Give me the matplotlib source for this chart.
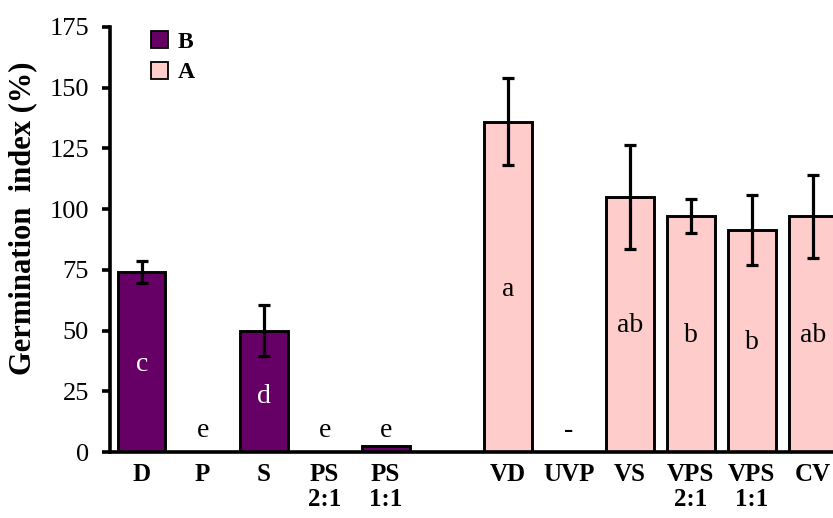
import matplotlib
matplotlib.use("Agg")
import matplotlib.pyplot as plt
from matplotlib.patches import Patch

plt.rcParams['font.family'] = ['Liberation Serif', 'DejaVu Serif']

# Treatments (series B: positions 0-4, series A: positions 6-11)
labels_b = ["D", "P", "S", "PS\n2:1", "PS\n1:1"]
values_b = [74, 0, 50, 0, 2.5]
errors_b = [4.5, 0, 10.5, 0, 0]
letters_b = ["c", "e", "d", "e", "e"]
letter_y_b = [36, 9, 23, 9, 9]

labels_a = ["VD", "UVP", "VS", "VPS\n2:1", "VPS\n1:1", "CV"]
values_a = [136, 0, 105, 97, 91.5, 97]
errors_a = [18, 0, 21.5, 7, 14.5, 17]
letters_a = ["a", "-", "ab", "b", "b", "ab"]
letter_y_a = [67, 9, 52, 48, 45, 48]

color_b = "#660066"
color_a = "#FFCCCC"

x_b = list(range(len(labels_b)))
x_a = [len(labels_b) + 1 + i for i in range(len(labels_a))]

fig = plt.figure(figsize=(8.33, 5.18), dpi=100)
ax = fig.add_axes([0.132, 0.1274, 0.868, 0.8206])

bw = 0.78
err_kw = dict(elinewidth=2.3, capthick=2.3, ecolor="black")

def draw(xs, vals, errs, color, letters, ly, txtcolor):
    for x, v, e, lt, y in zip(xs, vals, errs, letters, ly):
        if v > 0:
            ax.bar(x, v, width=bw, color=color, edgecolor="black", linewidth=2.1,
                   zorder=2)
        if e > 0:
            ax.errorbar(x, v, yerr=e, fmt="none", capsize=4.5, zorder=3, **err_kw)
        c = txtcolor if v > y else "black"
        ax.text(x, y, lt, ha="center", va="center", fontsize=20, color=c, zorder=4)

draw(x_b, values_b, errors_b, color_b, letters_b, letter_y_b, "white")
draw(x_a, values_a, errors_a, color_a, letters_a, letter_y_a, "black")

ax.set_xlim(-0.52, 11.33)
ax.set_ylim(0, 175)
ax.set_yticks(range(0, 176, 25))
ax.set_xticks(x_b + x_a)
ax.set_xticklabels(labels_b + labels_a, fontweight="bold", fontsize=18,
                   linespacing=1.1)
ax.tick_params(axis="x", length=0, pad=8)
ax.tick_params(axis="y", length=6, width=2.6, labelsize=19, pad=9)

for s in ["top", "right"]:
    ax.spines[s].set_visible(False)
for s in ["left", "bottom"]:
    ax.spines[s].set_linewidth(2.6)
ax.spines["bottom"].set_zorder(5)

ax.set_ylabel("Germination  index (%)", fontweight="bold", fontsize=22)
ax.yaxis.set_label_coords(-0.101, 0.55)

handles = [Patch(facecolor=color_b, edgecolor="black", linewidth=1.3, label="B"),
           Patch(facecolor=color_a, edgecolor="black", linewidth=1.3, label="A")]
leg = ax.legend(handles=handles, loc="upper left", bbox_to_anchor=(0.028, 1.04),
                frameon=False, prop={"weight": "bold", "size": 17},
                handlelength=0.72, handleheight=0.72, handletextpad=0.4,
                labelspacing=0.38)

fig.savefig("out.png", dpi=100)
